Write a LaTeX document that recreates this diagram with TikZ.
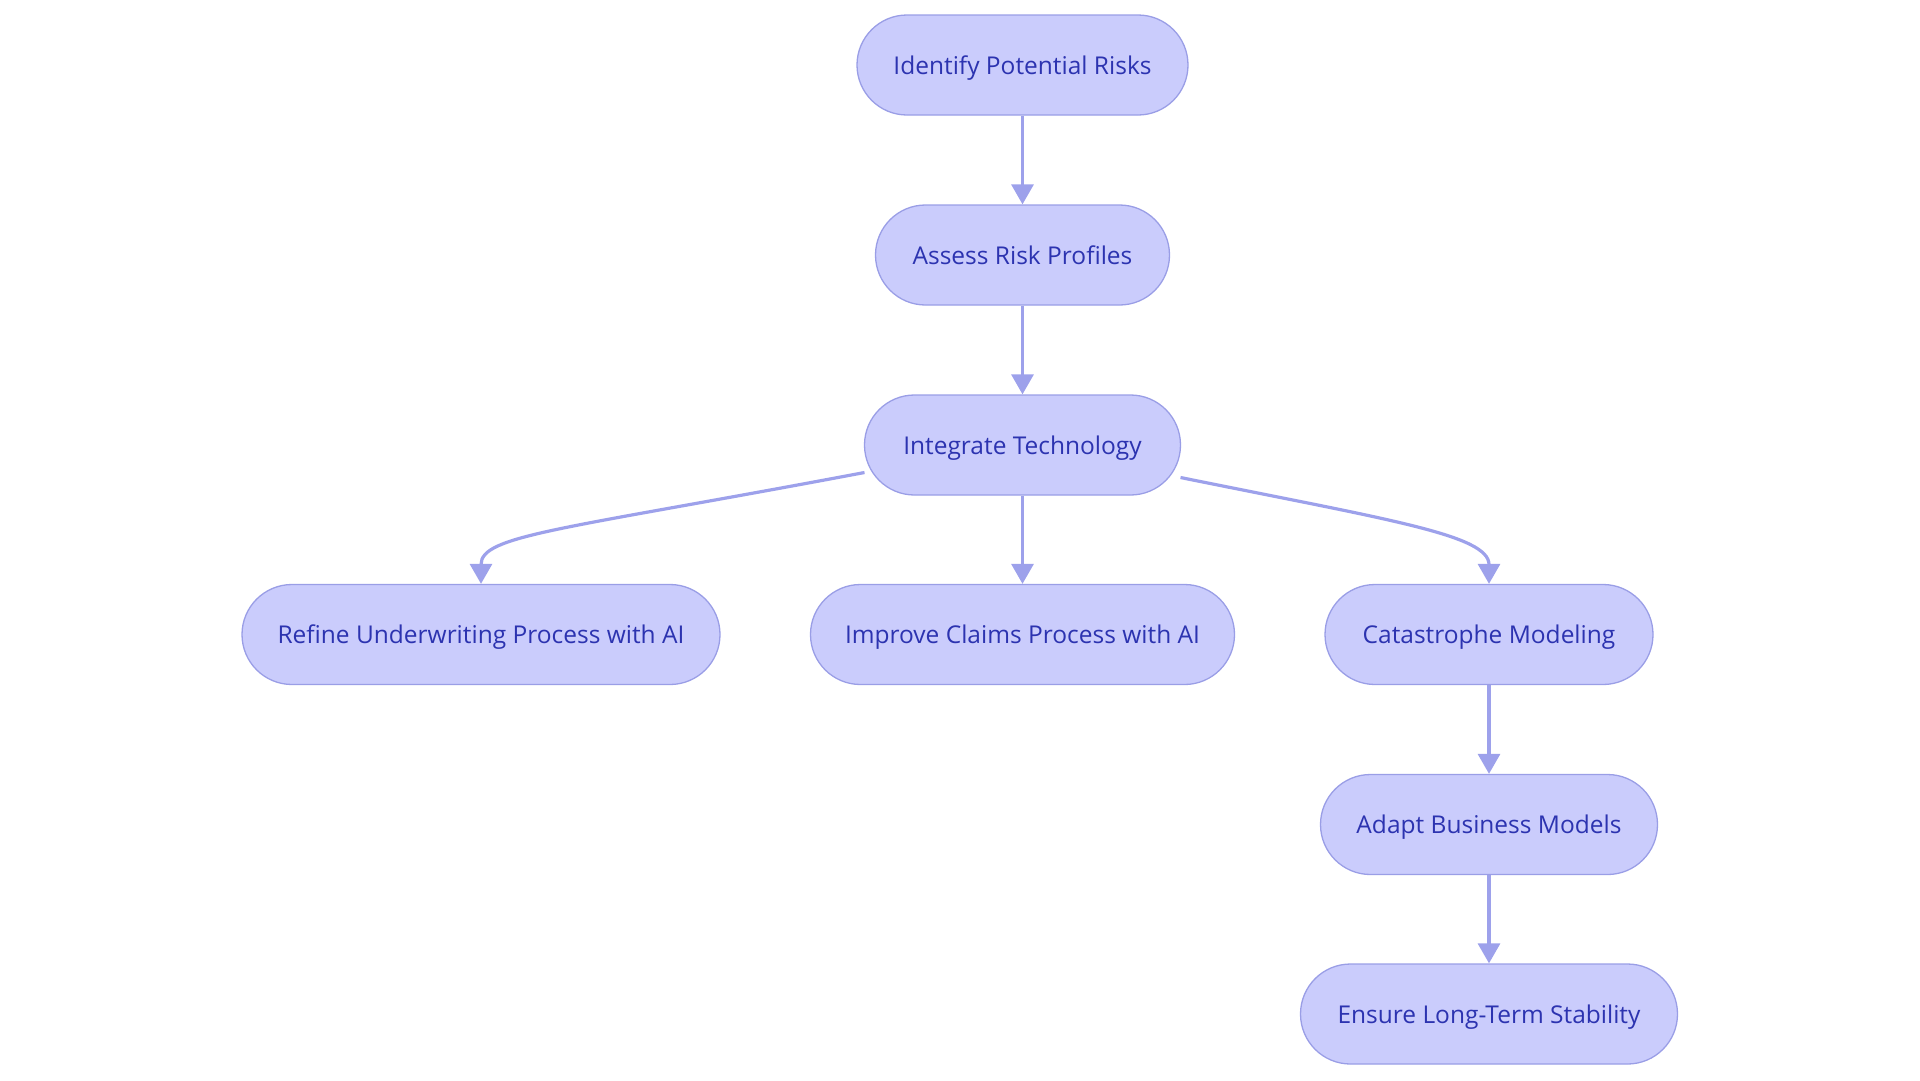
\documentclass[tikz,border=0pt]{standalone}
\usepackage{fontspec}
\setmainfont{Open Sans}
\usetikzlibrary{arrows.meta}
\definecolor{nodefill}{HTML}{CACCFC}
\definecolor{nodeline}{HTML}{9A9EE6}
\definecolor{nodetext}{HTML}{2C33B0}
\definecolor{edgecol}{HTML}{9DA1EB}
\begin{document}
\begin{tikzpicture}[x=1pt,y=-1pt,
  stadium/.style={draw=nodeline, fill=nodefill, line width=1.3pt, rounded corners=50pt,
    minimum height=100pt, text=nodetext, font=\fontsize{24.5}{28}\selectfont, inner sep=0pt,
    text height=19pt, text depth=1pt},
  flow/.style={draw=edgecol, line width=3.2pt, -{Triangle[width=22pt,length=20pt]}, shorten >=0pt}]
\useasboundingbox (0,0) rectangle (1920,1080);
\node[stadium, minimum width=331pt] (a) at (1022.5,65) {Identify Potential Risks};
\node[stadium, minimum width=294pt] (b) at (1022.5,255) {Assess Risk Profiles};
\node[stadium, minimum width=316pt] (c) at (1022.5,445) {Integrate Technology};
\node[stadium, minimum width=478pt] (d) at (481,634.5) {Refine Underwriting Process with AI};
\node[stadium, minimum width=424pt] (e) at (1022.5,634.5) {Improve Claims Process with AI};
\node[stadium, minimum width=328pt] (f) at (1489,634.5) {Catastrophe Modeling};
\node[stadium, minimum width=337pt] (g) at (1489,824.5) {Adapt Business Models};
\node[stadium, minimum width=377pt] (h) at (1489,1014) {Ensure Long-Term Stability};
\draw[flow] (a.south) -- (b.north);
\draw[flow] (b.south) -- (c.north);
\draw[flow] (c.south) -- (e.north);
\draw[flow] (f.south) -- (g.north);
\draw[flow] (g.south) -- (h.north);
\coordinate (cl) at (864.5,472.5);
\coordinate (cr) at (1180.5,477.5);
\draw[flow] (cl) .. controls (560,530) and (481,535) .. (d.north);
\draw[flow] (cr) .. controls (1390,520) and (1489,535) .. (f.north);
\end{tikzpicture}
\end{document}
